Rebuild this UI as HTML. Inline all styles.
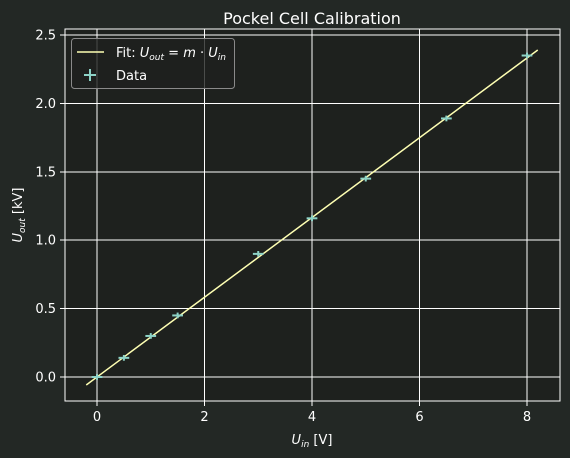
<!DOCTYPE html>
<html><head><meta charset="utf-8"><style>
body{margin:0;background:#232825;}
svg{display:block;font-family:"DejaVu Sans","Liberation Sans",sans-serif;}
#grid line,#ticks line{shape-rendering:crispEdges;}
</style></head><body>
<svg id="chart" width="570" height="458">
<rect width="570" height="458" fill="#232825"/>
<rect x="65" y="29" width="495" height="372" fill="#1e211e" stroke="#ffffff" stroke-width="1" shape-rendering="crispEdges"/>
<g id="grid"></g><g id="ticks"></g><g id="marks"></g>
<text x="312" y="24" text-anchor="middle" fill="#fff" font-size="16">Pockel Cell Calibration</text>
<text x="312" y="444" text-anchor="middle" fill="#fff" font-size="13"><tspan font-style="italic">U</tspan><tspan font-style="italic" font-size="9" dy="3">in</tspan><tspan dy="-3"> [V]</tspan></text>
<text transform="translate(22,215) rotate(-90)" text-anchor="middle" fill="#fff" font-size="13"><tspan font-style="italic">U</tspan><tspan font-style="italic" font-size="9" dy="3">out</tspan><tspan dy="-3"> [kV]</tspan></text>
<g>
<rect x="71.5" y="38.5" width="163" height="50" rx="3" fill="#1e211e" fill-opacity="0.8" stroke="#8a8a8a"/>
<line x1="77" y1="52" x2="104" y2="52" stroke="#feffb3" stroke-width="1.5"/>
<text x="116" y="57" fill="#fff" font-size="13">Fit: <tspan font-style="italic">U</tspan><tspan font-style="italic" font-size="9" dy="3">out</tspan><tspan dy="-3"> = </tspan><tspan font-style="italic">m</tspan> · <tspan font-style="italic">U</tspan><tspan font-style="italic" font-size="9" dy="3">in</tspan></text>
<g stroke="#8dd3c7" stroke-width="2"><line x1="84" y1="75" x2="96" y2="75"/><line x1="90" y1="69" x2="90" y2="81"/></g>
<text x="116" y="80" fill="#fff" font-size="13">Data</text>
</g>
</svg>
<script>
const xVals=[0,0.5,1,1.5,3,4,5,6.5,8];
const yVals=[0,0.14,0.30,0.45,0.90,1.16,1.45,1.89,2.35];
const xErr=[0.1,0.1,0.1,0.1,0.1,0.1,0.1,0.1,0.1];
const yErr=[0.01,0.01,0.01,0.01,0.01,0.01,0.01,0.01,0.01];
const slope=0.2915;
const fitRange=[-0.2,8.2];
const xTicks=[0,2,4,6,8];
const yTicks=[0,0.5,1.0,1.5,2.0,2.5];
const X=v=>97+v*53.75, Y=v=>377-v*136.8;
const NS="http://www.w3.org/2000/svg";
function mk(p,t,a){const e=document.createElementNS(NS,t);for(const k in a)e.setAttribute(k,a[k]);p.appendChild(e);return e;}
const g=document.getElementById('grid'),tk=document.getElementById('ticks'),m=document.getElementById('marks');
xTicks.forEach(v=>{const x=X(v);
 const l=mk(g,'line',{x1:x,x2:x,y1:29,y2:401,stroke:'#fff','stroke-width':1});
 
 
 mk(tk,'line',{x1:x,x2:x,y1:401,y2:406,stroke:'#fff'});
 const t=mk(tk,'text',{x:x,y:421,'text-anchor':'middle',fill:'#fff','font-size':13});t.textContent=v;
 
 });
yTicks.forEach(v=>{const y=Y(v);
 const l=mk(g,'line',{x1:65,x2:560,y1:y,y2:y,stroke:'#fff','stroke-width':1});
 
 
 mk(tk,'line',{x1:60,x2:65,y1:y,y2:y,stroke:'#fff'});
 const t=mk(tk,'text',{x:56,y:y+4.5,'text-anchor':'end',fill:'#fff','font-size':13});t.textContent=v.toFixed(1);
 
 });
const fl=mk(m,'line',{x1:X(fitRange[0]),y1:Y(fitRange[0]*slope),x2:X(fitRange[1]),y2:Y(fitRange[1]*slope),stroke:'#feffb3','stroke-width':1.5});


xVals.forEach((xv,i)=>{const yv=yVals[i];
 const gg=mk(m,'g',{stroke:'#8dd3c7','stroke-width':2});
 
 
 mk(gg,'line',{x1:X(xv-xErr[i]),x2:X(xv+xErr[i]),y1:Y(yv),y2:Y(yv)});
 mk(gg,'line',{x1:X(xv),x2:X(xv),y1:Y(yv-yErr[i])+1.5,y2:Y(yv+yErr[i])-1.5});});
</script>
</body></html>
